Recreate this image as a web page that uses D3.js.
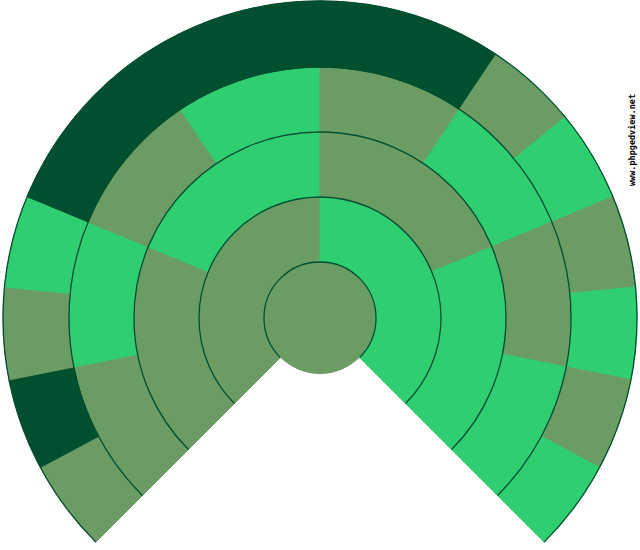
<!DOCTYPE html>
<html>
<head>
<meta charset="utf-8">
<script src="https://cdn.jsdelivr.net/npm/d3@7"></script>
<style>
  body { margin: 0; background: #fff; }
  svg { display: block; }
</style>
</head>
<body>
<svg id="fan"></svg>
<script>
// sexo de cada persona por generacion: M = padre, F = madre, "" = desconocido
const centro = "M";
const gen1 = ["M", "F"];
const gen2 = ["M", "F", "M", "F"];
const gen3 = ["M", "F", "M", "F", "M", "F", "M", "F"];
const gen4 = ["M", "", "M", "F", "", "", "", "", "", "", "M", "F", "M", "F", "M", "F"];
const generaciones = [gen1, gen2, gen3, gen4];
const marca = "www.phpgedview.net";

const colores = {"M": "#6b9c64", "F": "#2fce71", "": "#004f2f"};
const oscuro = "#004f2f";

const ancho = 640, alto = 550;
const cx = 320, cy = 318;
const radios = [56, 121, 186, 251, 317];
const abertura = 270;

let svg = d3.select("#fan")
    .attr("width", ancho)
    .attr("height", alto);

let g = svg.append("g").attr("transform", `translate(${cx},${cy})`);

// fraccion del abanico -> radianes (0 arriba, sentido horario)
let angulo = d3.scaleLinear()
    .domain([0, 1])
    .range([-abertura / 2 * Math.PI / 180, abertura / 2 * Math.PI / 180]);

let arco = d3.arc();

// disco central completo
g.append("circle")
    .attr("r", radios[0])
    .style("fill", colores[centro]);

generaciones.forEach((gen, i) => {
    let n = gen.length;
    g.selectAll(".gen" + i)
        .data(gen)
        .enter()
        .append("path")
        .attr("class", "gen" + i)
        .attr("d", (d, j) => arco({
            innerRadius: radios[i],
            outerRadius: radios[i + 1],
            startAngle: angulo(j / n),
            endAngle: angulo((j + 1) / n)
        }))
        .style("fill", d => colores[d])
        .style("stroke", d => colores[d])
        .style("stroke-width", 1);
});

// lineas de cada anillo, solo en la parte abierta del abanico
g.selectAll(".anillo")
    .data(radios)
    .enter()
    .append("path")
    .attr("class", "anillo")
    .attr("d", r => {
        let p = d3.path();
        let a0 = angulo(0) - Math.PI / 2, a1 = angulo(1) - Math.PI / 2;
        p.moveTo(r * Math.cos(a0), r * Math.sin(a0));
        p.arc(0, 0, r, a0, a1);
        return p.toString();
    })
    .style("fill", "none")
    .style("stroke", oscuro)
    .style("stroke-width", 1.3);

svg.append("text")
    .attr("transform", "translate(635,140) rotate(-90)")
    .attr("text-anchor", "middle")
    .style("font-family", "DejaVu Sans Mono, monospace")
    .style("font-size", "8.5px")
    .style("font-weight", "bold")
    .style("fill", "#000")
    .text(marca);
</script>
</body>
</html>
